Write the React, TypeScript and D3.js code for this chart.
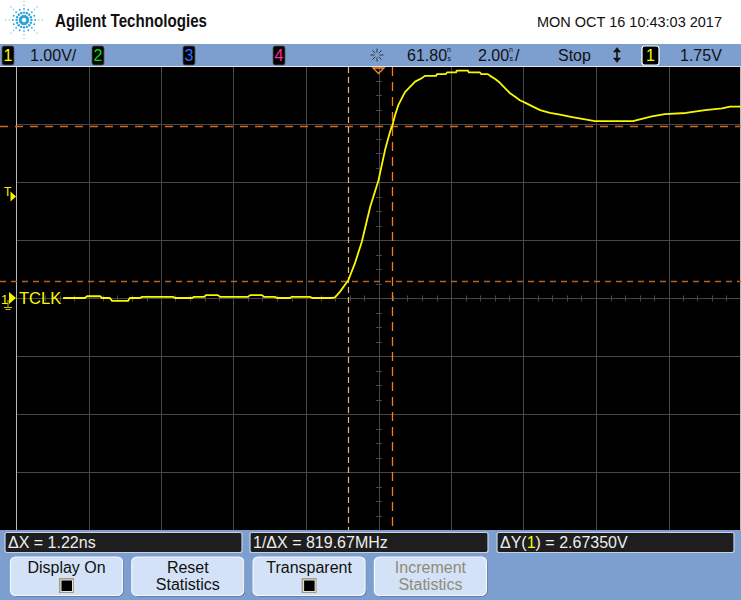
import React from "react";
import * as d3 from "d3";

// Channel 1 trace, time in ns, level in V
const traceTime = [
  53.1, 53.7, 53.76, 54.12, 54.17, 54.39, 54.45, 54.89, 54.94, 55.22, 55.28, 56.13, 56.19,
  56.66, 56.71, 56.99, 57.04, 57.37, 57.43, 58.2, 58.26, 58.59, 58.64, 58.94, 59.0, 59.36,
  59.41, 59.91, 59.97, 60.52, 60.6, 60.74, 60.97, 61.15, 61.34, 61.57, 61.8, 61.98, 62.12,
  62.18, 62.26, 62.35, 62.53, 62.67, 62.81, 62.99, 63.08, 63.39, 63.41, 63.66, 63.69, 63.94,
  63.96, 64.27, 64.29, 64.6, 64.63, 64.82, 64.88, 65.01, 65.15, 65.29, 65.43, 65.57, 65.7,
  65.87, 66.06, 66.26, 66.53, 66.81, 67.14, 67.5, 67.77, 68.82, 69.01, 69.34, 69.7, 70.28,
  70.81, 71.28, 71.5, 71.8,
];
const traceVolt = [
  0.0, 0.0, 0.03, 0.03, 0.0, 0.0, -0.05, -0.05, 0.0, 0.0, 0.02, 0.02, 0.0,
  0.0, 0.02, 0.02, 0.05, 0.05, 0.02, 0.02, 0.05, 0.05, 0.02, 0.02, 0.0, 0.0,
  0.02, 0.02, 0.0, 0.0, 0.01, 0.11, 0.31, 0.6, 0.97, 1.57, 2.03, 2.55, 2.87,
  2.97, 3.16, 3.33, 3.55, 3.64, 3.73, 3.79, 3.83, 3.83, 3.86, 3.86, 3.89, 3.89,
  3.92, 3.92, 3.89, 3.89, 3.86, 3.86, 3.83, 3.78, 3.71, 3.62, 3.53, 3.47, 3.41,
  3.36, 3.3, 3.24, 3.19, 3.16, 3.12, 3.08, 3.05, 3.05, 3.08, 3.13, 3.17, 3.19,
  3.24, 3.27, 3.3, 3.3,
];

// scope settings
const timePerDiv = 2.0; // ns
const timeDelay = 61.8; // ns at screen centre
const voltPerDiv = 1.0;
const triggerLevel = 1.75;
const cursorX = [60.96, 62.18];
const cursorY = [0.29, 2.96];

const channelBoxes = [
  { label: "1", color: "#ffff00" },
  { label: "2", color: "#00e000" },
  { label: "3", color: "#3070ff" },
  { label: "4", color: "#ff2aa0" },
];
const measurements = ["\u0394X = 1.22ns", "1/\u0394X = 819.67MHz", "\u0394Y(1) = 2.67350V"];
const buttons = [
  { lines: ["Display On"], check: true, dim: false },
  { lines: ["Reset", "Statistics"], check: false, dim: false },
  { lines: ["Transparent"], check: true, dim: false },
  { lines: ["Increment", "Statistics"], check: false, dim: true },
];

const W = 741;
const H = 600;
const FONT = "'Liberation Sans', Arial, sans-serif";
const BLUE = "#7d9fd0";
const GRID = "#474747";
const YEL = "#f8f800";

const Logo = ({ cx, cy }: { cx: number; cy: number }) => {
  const dots: { x: number; y: number; r: number }[] = [];
  for (let k = 0; k < 16; k++) {
    const a = (k * Math.PI) / 8;
    const n = k % 2 === 0 ? 5 : 3;
    for (let j = 1; j <= n; j++) {
      const d = j * 3.7;
      dots.push({ x: cx + Math.cos(a) * d, y: cy + Math.sin(a) * d, r: Math.max(0.55, 1.8 - j * 0.3) });
    }
  }
  return (
    <g fill="#2aa3da">
      {dots.map((d, i) => (
        <circle key={i} cx={d.x} cy={d.y} r={d.r} />
      ))}
    </g>
  );
};

const Button = ({ x, y, w, h, b }: any) => (
  <g>
    <rect x={x + 1} y={y + 1} width={w} height={h} rx={5} fill="#4b5d80" />
    <rect x={x} y={y} width={w} height={h} rx={5} fill="#d3e2f6" stroke="#f4f8ff" strokeWidth={1.2} />
    {b.lines.length === 1 ? (
      <text x={x + w / 2} y={y + 16} textAnchor="middle" fontSize={16} fill="#111">
        {b.lines[0]}
      </text>
    ) : (
      b.lines.map((l: string, i: number) => (
        <text key={i} x={x + w / 2} y={y + 16 + i * 17} textAnchor="middle" fontSize={16} fill={b.dim ? "#8e8c78" : "#111"}>
          {l}
        </text>
      ))
    )}
    {b.check && (
      <g>
        <rect x={x + w / 2 - 7.5} y={y + 21} width={15} height={15} fill="#a49c86" />
        <rect x={x + w / 2 - 6} y={y + 22.5} width={12.5} height={12.5} fill="#e8e4d8" />
        <rect x={x + w / 2 - 5} y={y + 23.5} width={10.5} height={10.5} fill="#000" />
      </g>
    )}
  </g>
);

export default function App() {
  const x = d3.scaleLinear().domain([timeDelay - 5 * timePerDiv, timeDelay + 5 * timePerDiv]).range([16, 741]);
  const y = d3.scaleLinear().domain([-4 * voltPerDiv, 4 * voltPerDiv]).range([530, 66]);

  const vLines = d3.range(0, 11).map((i) => timeDelay - 5 * timePerDiv + i * timePerDiv);
  const hLines = d3.range(-4, 5).map((v) => v * voltPerDiv);
  const minorT = d3.range(-25, 26).map((i) => timeDelay + (i * timePerDiv) / 5);
  const minorV = d3.range(-16, 17).map((i) => (i * voltPerDiv) / 4);

  const pts = traceTime.map((t, i) => [t, traceVolt[i]] as [number, number]);
  const path = d3
    .line<[number, number]>()
    .x((d) => x(d[0]))
    .y((d) => y(d[1]))(pts);

  const zeroY = y(0);
  const centerX = x(timeDelay);
  const trigY = y(triggerLevel);

  return (
    <svg width={W} height={H} style={{ position: "absolute", left: 0, top: 0, background: "#fff" }} fontFamily={FONT}>
      {/* header */}
      <rect x={0} y={0} width={W} height={44} fill="#fff" />
      <Logo cx={24} cy={20} />
      <text x={55} y={27} fontSize={18} fontWeight="bold" fill="#111" textLength={152} lengthAdjust="spacingAndGlyphs">
        Agilent Technologies
      </text>
      <text x={537} y={27} fontSize={15.5} fill="#111" textLength={185} lengthAdjust="spacingAndGlyphs">
        MON OCT 16 10:43:03 2017
      </text>

      {/* status bar */}
      <rect x={0} y={44} width={W} height={22} fill={BLUE} />
      {channelBoxes.map((c, i) => {
        const bx = [2, 92, 183, 273][i];
        return (
          <g key={i}>
            <rect x={bx} y={46} width={12} height={19} rx={2} fill="#000" stroke="#555" strokeWidth={0.8} />
            <text x={bx + 6} y={61} textAnchor="middle" fontSize={16} fill={c.color}>
              {c.label}
            </text>
          </g>
        );
      })}
      <text x={30} y={61} fontSize={16} fill="#111">1.00V/</text>
      <g stroke="#333" strokeWidth={1} transform="translate(377,55)">
        {d3.range(0, 8).map((k) => {
          const a = (k * Math.PI) / 4;
          return <line key={k} x1={Math.cos(a) * 2.5} y1={Math.sin(a) * 2.5} x2={Math.cos(a) * 6.5} y2={Math.sin(a) * 6.5} />;
        })}
      </g>
      <text x={407} y={61} fontSize={16} fill="#111">61.80</text>
      <text x={447} y={52} fontSize={7} fill="#111">n</text>
      <text x={447.5} y={61} fontSize={7} fill="#111">s</text>
      <text x={478} y={61} fontSize={16} fill="#111">2.00</text>
      <text x={509} y={52} fontSize={7} fill="#111">n</text>
      <text x={509.5} y={61} fontSize={7} fill="#111">s</text>
      <text x={515} y={61} fontSize={16} fill="#111">/</text>
      <text x={558} y={61} fontSize={16} fill="#111">Stop</text>
      <g stroke="#111" strokeWidth={1.6} fill="#111">
        <line x1={617} y1={49} x2={617} y2={61} />
        <path d="M613.5,52 L617,47.5 L620.5,52 Z" strokeWidth={0.5} />
        <path d="M613.5,58 L617,62.5 L620.5,58 Z" strokeWidth={0.5} />
      </g>
      <rect x={642} y={46} width={17} height={19} rx={2.5} fill="#000" stroke="#fff" strokeWidth={1.2} />
      <text x={650.5} y={61} textAnchor="middle" fontSize={16} fill={YEL}>1</text>
      <text x={680} y={61} fontSize={16} fill="#111">1.75V</text>

      {/* screen */}
      <rect x={0} y={66} width={W} height={464} fill="#000" />
      <g stroke={GRID} strokeWidth={1}>
        {vLines.map((t, i) => (
          <line key={`v${i}`} x1={Math.round(x(t)) + 0.5} x2={Math.round(x(t)) + 0.5} y1={66} y2={530} />
        ))}
        {hLines.map((v, i) => (
          <line key={`h${i}`} y1={Math.round(y(v)) + 0.5} y2={Math.round(y(v)) + 0.5} x1={16} x2={741} />
        ))}
        {minorT.map((t, i) => (
          <line key={`mt${i}`} x1={Math.round(x(t)) + 0.5} x2={Math.round(x(t)) + 0.5} y1={zeroY - 2.5} y2={zeroY + 3.5} />
        ))}
        {minorV.map((v, i) => (
          <line key={`mv${i}`} y1={Math.round(y(v)) + 0.5} y2={Math.round(y(v)) + 0.5} x1={centerX - 2.5} x2={centerX + 3.5} />
        ))}
      </g>
      <line x1={16.5} x2={16.5} y1={66} y2={530} stroke="#b8b8b8" />
      <line x1={740.5} x2={740.5} y1={66} y2={530} stroke="#b8b8b8" />
      <line x1={0} x2={W} y1={66.5} y2={66.5} stroke="#dfe6f2" />

      {/* cursors */}
      <line x1={0} x2={W} y1={Math.round(y(cursorY[0])) + 0.5} y2={Math.round(y(cursorY[0])) + 0.5} stroke="#b8621e" strokeWidth={1.5} strokeDasharray="6,5" />
      <line x1={0} x2={W} y1={Math.round(y(cursorY[1])) + 0.5} y2={Math.round(y(cursorY[1])) + 0.5} stroke="#d2691c" strokeWidth={1.5} strokeDasharray="8,7" />
      <line x1={Math.round(x(cursorX[0])) + 0.5} x2={Math.round(x(cursorX[0])) + 0.5} y1={67} y2={530} stroke="#f0b27c" strokeWidth={1.2} strokeDasharray="6,4" />
      <line x1={Math.round(x(cursorX[1])) + 0.5} x2={Math.round(x(cursorX[1])) + 0.5} y1={67} y2={530} stroke="#ff7a0a" strokeWidth={1.3} strokeDasharray="9,6" />

      {/* trigger marker on top */}
      <path d={`M${centerX - 5.5},68 L${centerX + 5.5},68 L${centerX},73.5 Z`} fill="none" stroke="#ff8a1c" strokeWidth={1.3} />

      {/* trace */}
      <path d={path || ""} fill="none" stroke={YEL} strokeWidth={1.8} strokeLinejoin="round" />

      {/* left markers */}
      <text x={4} y={196} fontSize={12} fill={YEL}>T</text>
      <path d={`M10.5,${trigY - 5} L16,${trigY} L10.5,${trigY + 5} Z`} fill={YEL} />
      <text x={1} y={zeroY + 6} fontSize={13} fill={YEL}>1</text>
      <path d={`M9,${zeroY - 6} L16,${zeroY} L9,${zeroY + 6} Z`} fill={YEL} />
      <g stroke="#c8c800" strokeWidth={1}>
        <line x1={8} x2={8} y1={zeroY + 2} y2={zeroY + 9} />
        <line x1={4} x2={12} y1={zeroY + 9.5} y2={zeroY + 9.5} />
        <line x1={5.5} x2={10.5} y1={zeroY + 11.5} y2={zeroY + 11.5} />
      </g>
      <text x={19} y={304} fontSize={16.5} fill={YEL}>TCLK</text>

      {/* bottom panel */}
      <rect x={0} y={530} width={W} height={70} fill={BLUE} />
      {measurements.map((m, i) => {
        const bx = [5, 250, 497][i];
        const bw = [237, 238, 237][i];
        return (
          <g key={i}>
            <rect x={bx} y={532.5} width={bw} height={20} rx={2} fill="#1e1e1e" stroke="#c9d2e3" strokeWidth={1.2} />
            {i === 2 ? (
              <text x={bx + 3} y={548} fontSize={16} fill="#eee">
                {"\u0394Y("}
                <tspan fill={YEL}>1</tspan>
                {") = 2.67350V"}
              </text>
            ) : (
              <text x={bx + 3} y={548} fontSize={16} fill="#eee">
                {m}
              </text>
            )}
          </g>
        );
      })}
      {buttons.map((b, i) => (
        <Button key={i} x={10.5 + i * 121.3} y={557} w={112} h={38.5} b={b} />
      ))}
    </svg>
  );
}
